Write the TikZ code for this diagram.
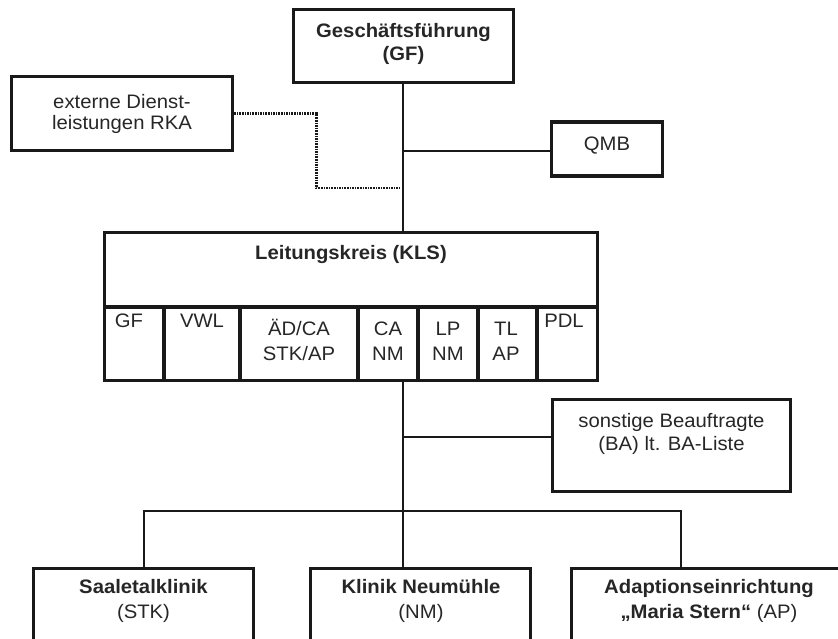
\documentclass[tikz,border=0pt]{standalone}
\usepackage{fontspec}
\setmainfont{Liberation Sans}[FakeStretch=1.04]
\begin{document}
\begin{tikzpicture}[x=1pt,y=-1pt,
  box/.style={draw=black!90, line width=3.5pt, inner sep=0pt, rectangle},
  txt/.style={inner sep=0pt, anchor=base, align=center, text=black!85, font=\fontsize{19.5}{23}\selectfont},
  conn/.style={draw=black!90, line width=2.2pt},
  dots/.style={draw=black!90, line width=2.8pt, dash pattern=on 1.6pt off 1pt}]
\clip (0,0) rectangle (838,638);
\useasboundingbox (0,0) rectangle (838,638);
% boxes
\node[box, minimum width=220pt, minimum height=73pt] (gf) at (403.5,46) {};
\node[box, minimum width=221pt, minimum height=74pt] (ext) at (122,113.5) {};
\node[box, minimum width=111pt, minimum height=54pt] (qmb) at (607,149) {};
\node[box, minimum width=493pt, minimum height=148pt] (kls) at (351,306.5) {};
\node[box, minimum width=238pt, minimum height=92pt] (ba) at (671.5,445.5) {};
\node[box, minimum width=220pt, minimum height=120pt, anchor=north] (stk) at (143.5,566.5) {};
\node[box, minimum width=220pt, minimum height=120pt, anchor=north] (nm) at (420.5,566.5) {};
\node[box, minimum width=275pt, minimum height=120pt, anchor=north] (ap) at (709,566.5) {};
% KLS inner divisions
\draw[line width=3.5pt, draw=black!90] (kls.west |- 0,307) -- (kls.east |- 0,307);
\foreach \xx in {164,240,358,418,478,537}
  \draw[line width=3.5pt, draw=black!90] (\xx,307) -- (\xx,382);
% texts (anchor=base is the baseline of the last line)
\node[txt] (gft) at (403.5,60) {\bfseries Geschäftsführung\\\bfseries (GF)};
\node[txt, font=\fontsize{19.5}{21}\selectfont] (extt) at (122,129) {externe Dienst-\\leistungen RKA};
\node[txt] (qmbt) at (607,150) {QMB};
\node[txt] (klst) at (351,259) {\bfseries Leitungskreis (KLS)};
\node[txt] (c1) at (129,327) {GF};
\node[txt] (c2) at (202,327) {VWL};
\node[txt, font=\fontsize{19.5}{25}\selectfont] (c3) at (299,360) {ÄD/CA\\STK/AP};
\node[txt, font=\fontsize{19.5}{25}\selectfont] (c4) at (388,360) {CA\\NM};
\node[txt, font=\fontsize{19.5}{25}\selectfont] (c5) at (448,360) {LP\\NM};
\node[txt, font=\fontsize{19.5}{25}\selectfont] (c6) at (506,360) {TL\\AP};
\node[txt] (c7) at (564,327) {PDL};
\node[txt] (bat) at (671.5,450) {sonstige Beauftragte\\(BA) lt. BA-Liste};
\node[txt, font=\fontsize{19.5}{25}\selectfont] (stkt) at (143.5,618) {\bfseries Saaletalklinik\\(STK)};
\node[txt, font=\fontsize{19.5}{25}\selectfont] (nmt) at (421,618) {\bfseries Klinik Neumühle\\(NM)};
\node[txt, font=\fontsize{19.5}{25}\selectfont] (apt) at (709,618) {\bfseries Adaptionseinrichtung\\{\bfseries „Maria Stern“} (AP)};
% connectors
\coordinate (spine) at (403,0);
\coordinate (dj) at (400,188);
\coordinate (bajoin) at (403,437);
\coordinate (busL) at (144,511);
\coordinate (busR) at (681,511);
\draw[conn] (spine |- gf.south) -- (spine |- kls.north);
\draw[conn] (spine |- 0,151) -- (qmb.west |- 0,151);
\draw[dots] (ext.east) -- ++(82,0) |- (dj);
\draw[conn] (spine |- kls.south) -- (spine |- nm.north);
\draw[conn] (bajoin) -- (ba.west |- bajoin);
\draw[conn] (stk.north -| busL) -- (busL) -- (busR) -- (busR |- ap.north);
\end{tikzpicture}
\end{document}
